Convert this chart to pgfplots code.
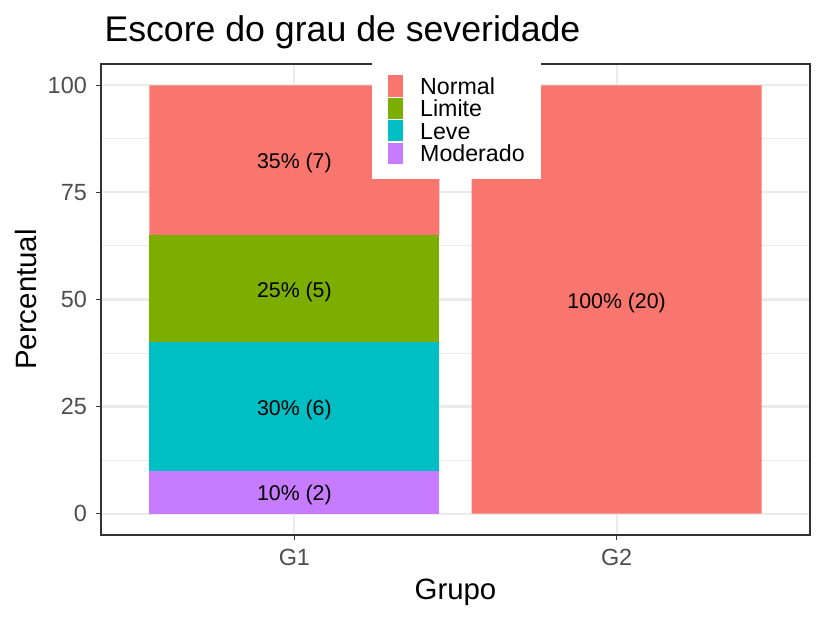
\documentclass[border=0pt]{standalone}
\usepackage{fontspec}
\setmainfont{Liberation Sans}
\usepackage{pgfplots}
\pgfplotsset{compat=1.18}

\definecolor{cNormal}{HTML}{F8766D}
\definecolor{cLimite}{HTML}{7CAE00}
\definecolor{cLeve}{HTML}{00BFC4}
\definecolor{cModerado}{HTML}{C77CFF}
\definecolor{gridc}{HTML}{EBEBEB}
\definecolor{framec}{HTML}{333333}
\definecolor{ticklab}{HTML}{4D4D4D}
\newcommand{\fs}[1]{\fontsize{#1}{#1}\selectfont}

\pgfplotsset{
  panel/.style={
    scale only axis, width=709bp, height=471bp,
    xmin=0.4, xmax=2.6, ymin=-5, ymax=105,
    at={(101bp,85bp)}, anchor=south west,
  }
}

\begin{document}
\begin{tikzpicture}
\useasboundingbox (0,0) rectangle (826bp,620bp);

\begin{axis}[panel,
  ybar stacked, bar width=0.9,
  xtick={1,2}, xticklabels={G1,G2},
  ytick={0,25,50,75,100}, minor ytick={12.5,37.5,62.5,87.5},
  tick pos=left, tick align=outside,
  major tick length=5bp, minor tick length=0pt,
  major tick style={framec, line width=1.1bp},
  axis line style={framec, line width=1.1bp},
  xmajorgrids, ymajorgrids, yminorgrids,
  major grid style={gridc, line width=2.1bp},
  minor grid style={gridc, line width=1bp},
  ticklabel style={font=\fs{23.5}, text=ticklab},
  /pgf/number format/assume math mode=true,
  yticklabel style={anchor=east, inner sep=0pt, xshift=-9bp},
  xticklabel style={anchor=north, inner sep=0pt, yshift=-9bp},
  reverse legend,
  legend cell align=left,
  legend image code/.code={\fill[#1] (0bp,-10.6bp) rectangle (15bp,10.6bp);},
  legend style={at={(0.3822,1.0085)}, anchor=north west, draw=none, fill=white,
    inner xsep=16bp, inner ysep=15bp, font=\fs{23.3}, row sep=0.55bp,
    nodes={inner sep=0pt, text height=19.2bp, text depth=2.6bp},
    /tikz/every odd column/.append style={column sep=17bp}},
]
\addplot[fill=cModerado, draw=none] coordinates {(1,10) (2,0)};
\addplot[fill=cLeve, draw=none] coordinates {(1,30) (2,0)};
\addplot[fill=cLimite, draw=none] coordinates {(1,25) (2,0)};
\addplot[fill=cNormal, draw=none] coordinates {(1,35) (2,100)};
\legend{Moderado, Leve, Limite, Normal}
\end{axis}

\begin{axis}[panel, hide axis]
\addplot[draw=none, nodes near coords, nodes near coords align={center},
  point meta=explicit symbolic,
  every node near coord/.append style={anchor=center, font=\fs{21.4}, inner sep=0pt, text=black, yshift=-3bp}]
  coordinates {(1,5) [{10\% (2)}] (1,25) [{30\% (6)}] (1,52.5) [{25\% (5)}]
               (1,82.5) [{35\% (7)}] (2,50) [{100\% (20)}]};
\end{axis}

\node[anchor=base west, font=\fs{35.8}] at (101bp,578bp) {Escore do grau de severidade};
\node[anchor=base, rotate=90, font=\fs{29.5}] at (36bp,320.5bp) {Percentual};
\node[anchor=base, font=\fs{29.5}] at (455.5bp,21bp) {Grupo};
\end{tikzpicture}
\end{document}
